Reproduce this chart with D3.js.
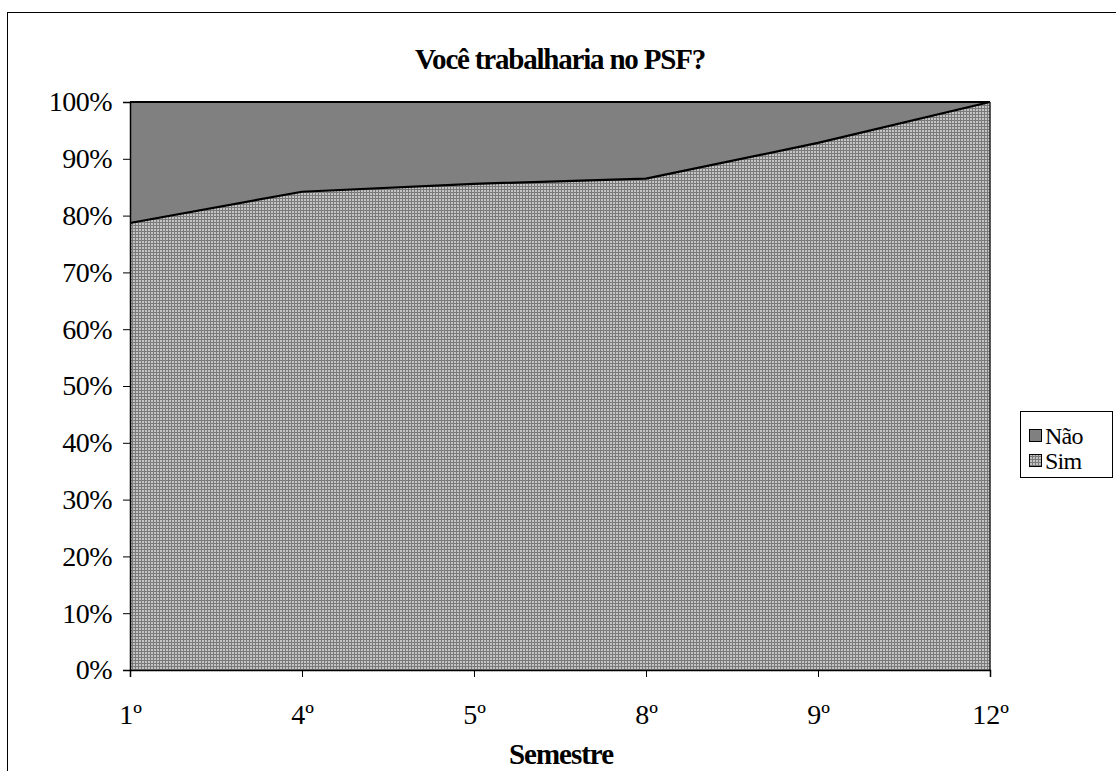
<!DOCTYPE html>
<html><head><meta charset="utf-8">
<script src="https://cdn.jsdelivr.net/npm/d3@7/dist/d3.min.js"></script>
<style>body{margin:0;background:#fff}svg{display:block}text{font-family:"Liberation Serif","Times New Roman",serif}</style>
</head><body>
<svg id="c" width="1116" height="771"></svg>
<script>
const categories = ["1º","4º","5º","8º","9º","12º"];
const simValues = [78.7, 84.2, 85.6, 86.5, 92.8, 100];
const naoValues = [21.3, 15.8, 14.4, 13.5, 7.2, 0];
const yTicks = [0,10,20,30,40,50,60,70,80,90,100];
const seriesNames = ["Não","Sim"];

const svg = d3.select("#c");
const defs = svg.append("defs");
const pat = defs.append("pattern").attr("id","dots").attr("patternUnits","userSpaceOnUse").attr("width",3).attr("height",3);
pat.append("rect").attr("width",3).attr("height",3).attr("fill","#c4c4c4");
pat.append("rect").attr("width",3).attr("height",1).attr("fill","#7a7a7a");
pat.append("rect").attr("width",1).attr("height",3).attr("fill","#7a7a7a");

svg.append("rect").attr("x",7.5).attr("y",12.5).attr("width",1120).attr("height",780).attr("fill","none").attr("stroke","#000").attr("stroke-width",1);

const L=130,R=990,T=102,B=670;
const x = d3.scalePoint().domain(categories).range([L,R]);
const y = d3.scaleLinear().domain([0,100]).range([B,T]);

const data = categories.map((c,i)=>({c, sim:simValues[i], nao:naoValues[i]}));
const tot = d=>d.sim+d.nao;

svg.append("path")
  .attr("d", d3.area().x(d=>x(d.c)).y0(d=>y(d.sim/tot(d)*100)).y1(()=>y(100))(data))
  .attr("fill","#808080");
svg.append("path")
  .attr("d", d3.area().x(d=>x(d.c)).y0(y(0)).y1(d=>y(d.sim/tot(d)*100))(data))
  .attr("fill","url(#dots)");
svg.append("path").attr("d", d3.line().x(d=>x(d.c)).y(d=>y(d.sim/tot(d)*100))(data))
  .attr("fill","none").attr("stroke","#000").attr("stroke-width",2.2);
svg.append("path").attr("d", d3.line().x(d=>x(d.c)).y(()=>y(100))(data))
  .attr("fill","none").attr("stroke","#000").attr("stroke-width",2.2);
svg.append("line").attr("x1",R).attr("x2",R).attr("y1",T).attr("y2",B).attr("stroke","#222").attr("stroke-width",1.5);

const ya = svg.append("g").attr("transform",`translate(${L},0)`)
  .call(d3.axisLeft(y).tickValues(yTicks).tickFormat(d=>d+"%").tickSize(7).tickPadding(11));
ya.select(".domain").attr("stroke","#000").attr("stroke-width",1.5);
ya.selectAll("line").attr("stroke","#000");
ya.selectAll("text").attr("font-size",28).attr("letter-spacing",-0.5).attr("fill","#000").attr("font-family","Liberation Serif");

const xa = svg.append("g").attr("transform",`translate(0,${B})`)
  .call(d3.axisBottom(x).tickSize(7).tickPadding(27));
xa.select(".domain").attr("stroke","#000").attr("stroke-width",1.5);
xa.selectAll("line").attr("stroke","#000");
xa.selectAll("text").attr("font-size",28).attr("fill","#000").attr("font-family","Liberation Serif");

svg.append("text").attr("x",560).attr("y",69).attr("text-anchor","middle")
  .attr("font-size",29).attr("font-weight","bold").attr("letter-spacing",-1.2).text("Você trabalharia no PSF?");
svg.append("text").attr("x",561).attr("y",764).attr("text-anchor","middle")
  .attr("font-size",29).attr("font-weight","bold").attr("letter-spacing",-1).text("Semestre");

const lg = svg.append("g");
lg.append("rect").attr("x",1020.5).attr("y",411.5).attr("width",92).attr("height",66).attr("fill","#fff").attr("stroke","#000");
const fills = ["#808080","url(#dots)"];
seriesNames.forEach((n,i)=>{
  const yy = 436 + i*25;
  lg.append("rect").attr("x",1029.5).attr("y",yy-6.5).attr("width",12).attr("height",12).attr("fill",fills[i]).attr("stroke","#000");
  lg.append("text").attr("x",1045).attr("y",yy+8).attr("font-size",24).attr("letter-spacing",-0.8).text(n);
});
</script>
</body></html>
